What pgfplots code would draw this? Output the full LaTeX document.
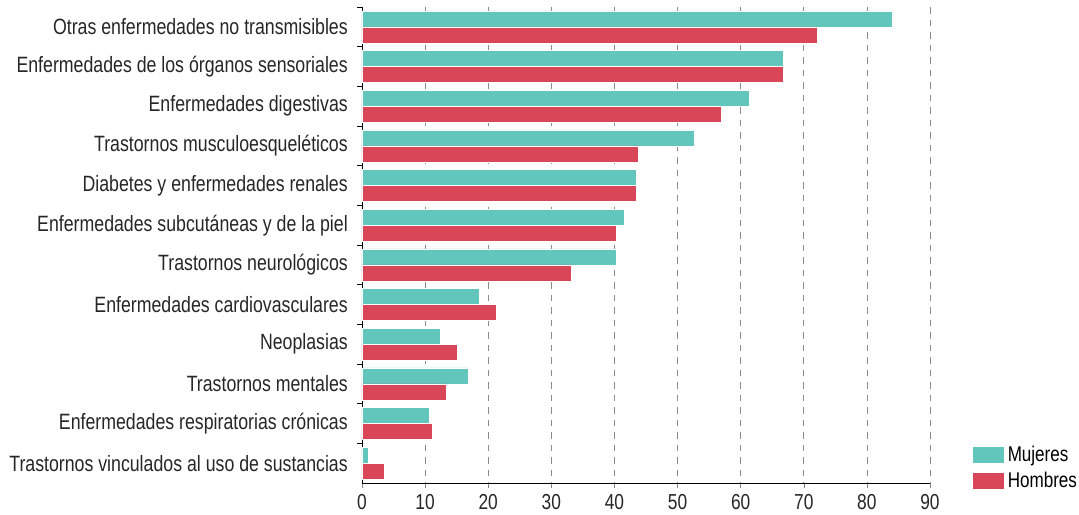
\documentclass[border=0pt]{standalone}
\usepackage{fontspec}
\setmainfont{Liberation Sans}[FakeStretch=0.8]
\usepackage{pgfplots}
\pgfplotsset{compat=1.18}
\usetikzlibrary{calc}
\definecolor{muj}{RGB}{99,198,189}
\definecolor{hom}{RGB}{216,70,88}
\definecolor{gridc}{RGB}{140,140,140}
\begin{document}
\begin{tikzpicture}
\begin{axis}[
  name=ax,
  scale only axis,
  width=340.8pt, height=285.6pt,
  bar width=9.6pt,
  y dir=reverse,
  xmin=0, xmax=90,
  ymin=-0.5, ymax=11.5,
  xtick={0,10,...,90},
  ytick={0,...,11},
  yticklabels={Otras enfermedades no transmisibles,
    Enfermedades de los órganos sensoriales,
    Enfermedades digestivas,
    Trastornos musculoesqueléticos,
    Diabetes y enfermedades renales,
    Enfermedades subcutáneas y de la piel,
    Trastornos neurológicos,
    Enfermedades cardiovasculares,
    Neoplasias,
    Trastornos mentales,
    Enfermedades respiratorias crónicas,
    Trastornos vinculados al uso de sustancias},
  minor ytick={-0.5,0.5,...,10.5},
  major y tick style={draw=none},
  minor y tick style={black, thin},
  minor tick length=3pt,
  major tick length=3pt,
  tick align=outside,
  axis lines*=left,
  axis line style={black, thin},
  x axis line style={-}, y axis line style={-},
  xmajorgrids,
  major x grid style={gridc, dashed, dash pattern=on 4pt off 3.5pt, thin},
  yticklabel style={font=\fontsize{13.3}{15}\selectfont, text=black!85, xshift=-2pt},
  xticklabel style={font=\fontsize{13}{15}\selectfont, text=black!85},
  /pgf/number format/assume math mode=true,
  legend style={at={(1.065,-0.03)}, anchor=south west, draw=none, fill=none,
    font=\fontsize{12.8}{15}\selectfont, row sep=1pt,
    /tikz/every even column/.append style={column sep=2pt}},
  legend image code/.code={\fill[#1] (0pt,-5pt) rectangle (19pt,5.2pt);},
  legend cell align=left,
]
\addplot[xbar, bar shift=4.8pt, fill=muj, draw=white, line width=0.3pt] coordinates {
  (84.0,0) (66.8,1) (61.4,2) (52.6,3) (43.4,4) (41.6,5)
  (40.3,6) (18.6,7) (12.4,8) (16.9,9) (10.7,10) (1.0,11)};
\addplot[xbar, bar shift=-4.8pt, fill=hom, draw=white, line width=0.3pt] coordinates {
  (72.1,0) (66.8,1) (57.0,2) (43.8,3) (43.4,4) (40.3,5)
  (33.2,6) (21.3,7) (15.1,8) (13.3,9) (11.2,10) (3.6,11)};
\legend{Mujeres, Hombres}
\end{axis}
\pgfresetboundingbox
\path[use as bounding box] ($(ax.south west)+(-217.2pt,-18.6pt)$) rectangle ($(ax.north east)+(89.4pt,4.2pt)$);
\end{tikzpicture}
\end{document}
